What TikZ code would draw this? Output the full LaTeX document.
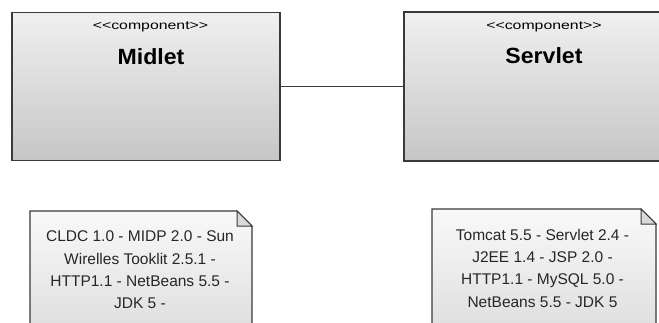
\documentclass[tikz,border=0pt]{standalone}
\usepackage{fontspec}
\setmainfont{Liberation Sans}
\newfontfamily\stereofont[FakeStretch=1.32]{Liberation Sans}
\newfontfamily\titlefont[FakeStretch=1.05]{Liberation Sans Bold}
\definecolor{edgegrey}{HTML}{3A3A3A}
\definecolor{compTop}{HTML}{F0F0F0}
\definecolor{compBottom}{HTML}{C6C6C6}
\definecolor{noteTop}{HTML}{F9F9F9}
\definecolor{noteBottom}{HTML}{DCDCDC}
\definecolor{foldgrey}{HTML}{DADADA}
\tikzset{
  component/.style={draw=edgegrey, line width=1.2pt, top color=compTop,
    bottom color=compBottom, minimum width=268, minimum height=148,
    inner sep=0, anchor=center},
  stereotype/.style={anchor=base, inner sep=0, font=\stereofont\fontsize{12}{14}\selectfont},
  comptitle/.style={anchor=base, inner sep=0, font=\titlefont\fontsize{22}{26}\selectfont},
  noteoutline/.style={draw=edgegrey, line width=1.2pt, top color=noteTop, bottom color=noteBottom},
  notefold/.style={draw=edgegrey, line width=1pt, fill=foldgrey, line join=miter},
  notetext/.style={anchor=north, inner sep=0, align=center,
    font=\fontsize{15.5}{22.3}\selectfont, text=black!85},
  connector/.style={draw=edgegrey, line width=0.9pt},
}
\begin{document}
\begin{tikzpicture}[x=1pt, y=1pt]
\useasboundingbox (0,0) rectangle (659,322);
\clip (0,0) rectangle (659,322);
\fill[white] (0,0) rectangle (659,322);

% the two components
\node[component] (midlet) at (146,235.5) {};
\node[component, minimum height=149] (servlet) at (538,235.5) {};
\node[stereotype] (midletst) at (150.5,292.5) {<<component>>};
\node[comptitle] (midletname) at (151,257) {Midlet};
\node[stereotype] (servletst) at (544,292) {<<component>>};
\node[comptitle] (servletname) at (544,258) {Servlet};

% link between them
\draw[connector] (midlet.east) -- (servlet.west);

% note attached under the midlet
\path[noteoutline] (30,-20) -- (30,111) -- (237,111) -- (252,96) -- (252,-20) -- cycle;
\path[notefold] (237,111) -- (237,96) -- (252,96) -- cycle;
\node[notetext] (midletnote) at (140,91.3)
  {CLDC 1.0 - MIDP 2.0 - Sun\\Wirelles Tooklit 2.5.1 -\\HTTP1.1 - NetBeans 5.5 -\\JDK 5 -};

% note attached under the servlet
\path[noteoutline] (432,-20) -- (432,113) -- (641,113) -- (656,98) -- (656,-20) -- cycle;
\path[notefold] (641,113) -- (641,98) -- (656,98) -- cycle;
\node[notetext] (servletnote) at (542.5,93.3)
  {Tomcat 5.5 - Servlet 2.4 -\\J2EE 1.4 - JSP 2.0 -\\HTTP1.1 - MySQL 5.0 -\\NetBeans 5.5 - JDK 5};
\end{tikzpicture}
\end{document}
